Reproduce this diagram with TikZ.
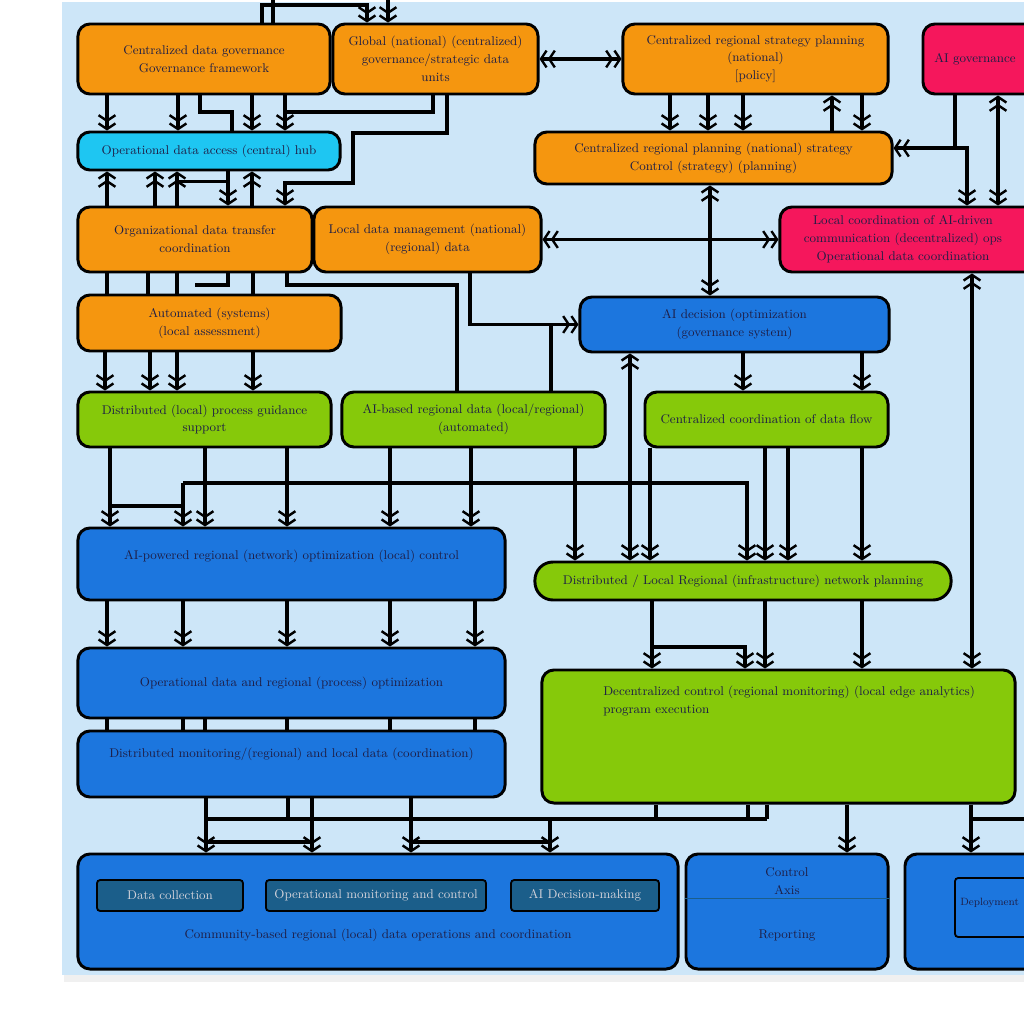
\documentclass[tikz,border=0pt]{standalone}
\usepackage{tikz}
\usetikzlibrary{positioning, calc, arrows.meta}

\definecolor{bgblue}{HTML}{CDE6F8}
\definecolor{boxorange}{HTML}{F5960F}
\definecolor{boxcyan}{HTML}{1EC6F2}
\definecolor{boxpink}{HTML}{F5175C}
\definecolor{boxblue}{HTML}{1C76DE}
\definecolor{boxgreen}{HTML}{86C90A}
\definecolor{boxteal}{HTML}{1B5E8A}
\definecolor{txtnavy}{HTML}{1E1E46}

\begin{document}
\begin{tikzpicture}[
  x=0.025cm, y=-0.025cm,
  font=\fontsize{9}{12.7}\selectfont,
  box/.style={draw, line width=2.1pt, rounded corners=0.3cm, align=center, text=txtnavy, inner sep=0pt},
  orangebox/.style={box, fill=boxorange},
  cyanbox/.style={box, fill=boxcyan},
  pinkbox/.style={box, fill=boxpink},
  bluebox/.style={box, fill=boxblue},
  greenbox/.style={box, fill=boxgreen},
  innerbox/.style={draw, line width=1.3pt, rounded corners=0.08cm, fill=boxteal, text=txtnavy!20!white, inner sep=0pt, minimum height=0.775cm},
  boxtext/.style={text=txtnavy, align=center, inner sep=0pt},
  arrow/.style={line width=2.4pt, -{Straight Barb[length=4pt,width=12pt,line width=1.7pt] Straight Barb[length=4pt,width=12pt,line width=1.7pt]}},
  dblarrow/.style={line width=2.4pt, {Straight Barb[length=4pt,width=12pt,line width=1.7pt] Straight Barb[length=4pt,width=12pt,line width=1.7pt]}-{Straight Barb[length=4pt,width=12pt,line width=1.7pt] Straight Barb[length=4pt,width=12pt,line width=1.7pt]}},
  link/.style={line width=2.4pt},
]

  \useasboundingbox (0,0) rectangle (1024,1024);
  \fill[white] (0,0) rectangle (1024,1024);
  \fill[black!6] (64,975) rectangle (1024,982);
  \fill[bgblue] (62,2) rectangle (1024,975);

  % Top row
  \node (O1) [orangebox, minimum width=6.3cm, minimum height=1.75cm] at (204,59) {Centralized data governance\\Governance framework};
  \node (O2) [orangebox, minimum width=5.125cm, minimum height=1.75cm] at (435.5,59) {Global (national) (centralized)\\governance/strategic data\\units};
  \node (O3) [orangebox, minimum width=6.625cm, minimum height=1.75cm] at (755.5,59) {Centralized regional strategy planning\\(national)\\{[policy]}};
  \node (R1) [pinkbox, minimum width=5.75cm, minimum height=1.75cm] at (1038,59) {};
  \node (R1t) [boxtext] at (975,59) {AI governance};

  % Second row
  \node (C1) [cyanbox, minimum width=6.55cm, minimum height=0.95cm] at (209,151) {Operational data access (central) hub};
  \node (O4) [orangebox, minimum width=8.925cm, minimum height=1.3cm] at (713.5,158) {Centralized regional planning (national) strategy\\Control (strategy) (planning)};
  \node (O5) [orangebox, minimum width=5.85cm, minimum height=1.625cm] at (195,239.5) {Organizational data transfer\\coordination};
  \node (O6) [orangebox, minimum width=5.675cm, minimum height=1.625cm] at (427.5,239.5) {Local data management (national)\\(regional) data};
  \node (R2) [pinkbox, minimum width=8cm, minimum height=1.625cm] at (940,239.5) {};
  \node (R2t) [boxtext] at (903,239.5) {Local coordination of AI-driven\\communication (decentralized) ops\\Operational data coordination};
  \node (O7) [orangebox, minimum width=6.575cm, minimum height=1.4cm] at (209.5,323) {Automated (systems)\\(local assessment)};
  \node (B1) [bluebox, minimum width=7.725cm, minimum height=1.375cm] at (734.5,324.5) {AI decision (optimization\\(governance system)};

  % Green row
  \node (G1) [greenbox, minimum width=6.325cm, minimum height=1.375cm] at (204.5,419.5) {Distributed (local) process guidance\\support};
  \node (G2) [greenbox, minimum width=6.575cm, minimum height=1.375cm] at (473.5,419.5) {AI-based regional data (local/regional)\\(automated)};
  \node (G3) [greenbox, minimum width=6.075cm, minimum height=1.375cm] at (766.5,419.5) {Centralized coordination of data flow};

  % Lower blocks
  \node (B2) [bluebox, minimum width=10.675cm, minimum height=1.8cm] at (291.5,564) {};
  \node (B2t) [boxtext] at (291.5,556) {AI-powered regional (network) optimization (local) control};
  \node (G4) [greenbox, rounded corners=0.45cm, minimum width=10.4cm, minimum height=0.95cm] at (743,581) {Distributed / Local Regional (infrastructure) network planning};
  \node (B3) [bluebox, minimum width=10.675cm, minimum height=1.75cm] at (291.5,683) {Operational data and regional (process) optimization};
  \node (B4) [bluebox, minimum width=10.675cm, minimum height=1.65cm] at (291.5,764) {};
  \node (B4t) [boxtext] at (291.5,754) {Distributed monitoring/(regional) and local data (coordination)};
  \node (G5) [greenbox, minimum width=11.825cm, minimum height=3.325cm] at (778.5,736.5) {};
  \node (G5t) [boxtext, anchor=north west, align=left] at (603,686) {Decentralized control (regional monitoring) (local edge analytics)\\program execution};

  % Bottom row
  \node (B5) [bluebox, minimum width=15cm, minimum height=2.875cm] at (378,911.5) {};
  \node (I1) [innerbox, minimum width=3.65cm] at (170,895.5) {Data collection};
  \node (I2) [innerbox, minimum width=5.5cm] at (376,895.5) {Operational monitoring and control};
  \node (I3) [innerbox, minimum width=3.7cm] at (585,895.5) {AI Decision-making};
  \node (B5t) [boxtext] at (378,935) {Community-based regional (local) data operations and coordination};
  \node (B6) [bluebox, minimum width=5.05cm, minimum height=2.875cm] at (787,911.5) {};
  \node (B6a) [boxtext] at (787,881) {Control\\Axis};
  \node (B6b) [boxtext] at (787,935) {Reporting};
  \draw[line width=0.6pt, boxteal] (B6.west |- 0,898) -- (B6.east |- 0,898);
  \node (B7) [bluebox, minimum width=4.875cm, minimum height=2.875cm] at (1002.5,911.5) {};
  \node (I4) [innerbox, fill=boxblue, minimum width=3.625cm, minimum height=1.475cm] at (1027.5,907.5) {};
  \node (I4t) [boxtext, anchor=west, font=\fontsize{7.5}{9}\selectfont] at (960,903) {Deployment};

  % Junctions and free ends
  \coordinate (top1) at (273,-5);
  \coordinate (top2) at (388,-5);
  \coordinate (split) at (183,483);
  \coordinate (busL) at (206,819);
  \coordinate (busR) at (767,819);
  \coordinate (edgeR) at (1030,819);

  % Top connectors
  \draw[arrow] (262,0 |- O1.north) |- (367,5) -- (367,0 |- O2.north);
  \draw[link] (273,0 |- O1.north) -- (top1);
  \draw[arrow] (top2) -- (388,0 |- O2.north);
  \draw[dblarrow] (O2.east) -- (O3.west);

  % Orange block to cyan platform
  \foreach \x in {107,178,252,285} {
    \draw[arrow] (\x,0 |- O1.south) -- (\x,0 |- C1.north);
  }
  \draw[link] (200,0 |- O1.south) |- (232,112) -- (232,0 |- C1.north);
  \draw[link] (433,0 |- O2.south) |- (285,112);
  \draw[arrow] (447,0 |- O2.south) |- (353,133) |- (285,183) -- (285,0 |- O5.north);

  % Cyan platform and data transfer
  \foreach \x in {107,155,177,252} {
    \draw[arrow] (\x,0 |- O5.north) -- (\x,0 |- C1.south);
  }
  \draw[arrow] (228,0 |- C1.south) -- (228,0 |- O5.north);
  \draw[link] (177,0 |- O5.north) ++(0,-24) -- ++(51,0);

  % Data transfer to automated systems
  \foreach \x in {107,148,177,253} {
    \draw[link] (\x,0 |- O5.south) -- (\x,0 |- O7.north);
  }
  \draw[link] (228,0 |- O5.south) |- (195,285);
  \draw[link] (287,0 |- O5.south) |- (457,285) -- (457,0 |- G2.north);
  \draw[arrow] (470,0 |- O6.south) |- (B1.west);
  \draw[link] (551,0 |- G2.north) -- (551,0 |- B1.west);
  \draw[dblarrow] (O6.east) -- (O6.east -| R2.west);
  \draw[dblarrow] (710,0 |- O4.south) -- (710,0 |- B1.north);

  % Right hand side
  \foreach \x in {670,708,743,862} {
    \draw[arrow] (\x,0 |- O3.south) -- (\x,0 |- O4.north);
  }
  \draw[arrow] (832,0 |- O4.north) -- (832,0 |- O3.south);
  \draw[arrow] (955,0 |- R1.south) |- ([yshift=7pt]O4.east);
  \draw[arrow] (955,148) -| (967,0 |- R2.north);
  \draw[dblarrow] (998,0 |- R1.south) -- (998,0 |- R2.north);
  \draw[dblarrow] (972,0 |- R2.south) -- (972,0 |- G5.north);

  % Into the green row
  \foreach \x in {105,150,177,253} {
    \draw[arrow] (\x,0 |- O7.south) -- (\x,0 |- G1.north);
  }
  \foreach \x in {743,862} {
    \draw[arrow] (\x,0 |- B1.south) -- (\x,0 |- G3.north);
  }
  \draw[dblarrow] (630,0 |- B1.south) -- (630,0 |- G4.north);

  % Green row to lower blocks
  \draw[arrow] (110,0 |- G1.south) -- (110,0 |- B2.north);
  \draw[link] (110,506) -- (183,506);
  \foreach \x in {205,287} {
    \draw[arrow] (\x,0 |- G1.south) -- (\x,0 |- B2.north);
  }
  \draw[arrow] (split) -- (split |- B2.north);
  \draw[arrow] (split) -| (747,0 |- G4.north);
  \foreach \x in {390,471} {
    \draw[arrow] (\x,0 |- G2.south) -- (\x,0 |- B2.north);
  }
  \draw[arrow] (575,0 |- G2.south) -- (575,0 |- G4.north);
  \foreach \x in {650,765,788,862} {
    \draw[arrow] (\x,0 |- G3.south) -- (\x,0 |- G4.north);
  }

  % Blue stack
  \foreach \x in {107,183,287,390,475} {
    \draw[arrow] (\x,0 |- B2.south) -- (\x,0 |- B3.north);
  }
  \foreach \x in {107,183,205,287,390,475} {
    \draw[link] (\x,0 |- B3.south) -- (\x,0 |- B4.north);
  }

  % Regional network to decentralized control
  \draw[arrow] (652,0 |- G4.south) -- (652,0 |- G5.north);
  \draw[arrow] (652,647) -| (745,0 |- G5.north);
  \foreach \x in {765,862} {
    \draw[arrow] (\x,0 |- G4.south) -- (\x,0 |- G5.north);
  }

  % Bottom bus
  \draw[link] (busL) -- (busR);
  \foreach \x in {206,288,312,411} {
    \draw[link] (\x,0 |- B4.south) -- (\x,819);
  }
  \foreach \x in {656,748,767} {
    \draw[link] (\x,0 |- G5.south) -- (\x,819);
  }
  \foreach \x in {206,312,411,550} {
    \draw[arrow] (\x,819) -- (\x,0 |- B5.north);
  }
  \draw[link] (206,842) -- (312,842);
  \draw[link] (411,842) -- (550,842);
  \draw[arrow] (847,0 |- G5.south) -- (847,0 |- B6.north);
  \draw[arrow] (971,0 |- G5.south) -- (971,0 |- B7.north);
  \draw[link] (971,819) -- (edgeR);

\end{tikzpicture}
\end{document}
